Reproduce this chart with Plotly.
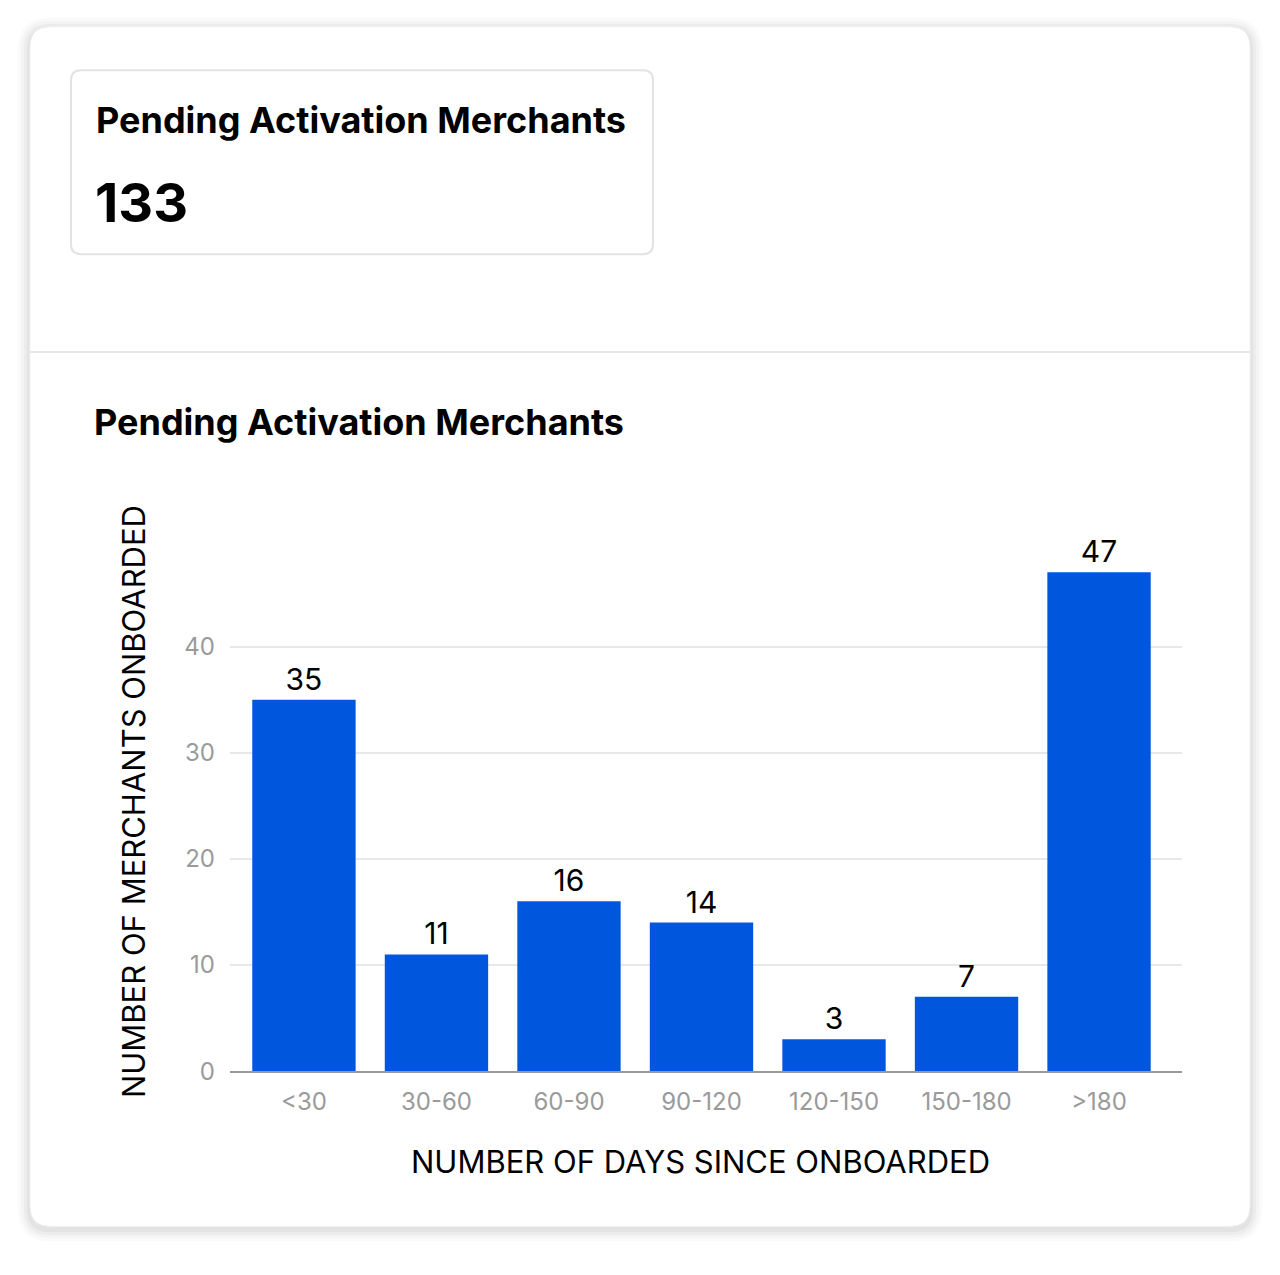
import plotly.graph_objects as go

W, H = 1280, 1275

# data
categories = ["<30", "30-60", "60-90", "90-120", "120-150", "150-180", ">180"]
merchants = [35, 11, 16, 14, 3, 7, 47]
total_pending = sum(merchants)  # 133
y_ticks = [0, 10, 20, 30, 40]

FONT = "Inter"
BLUE = "#0057de"


def px_x(x):
    return x / W


def px_y(y):
    return 1 - y / H


def rounded_rect(x0, y0, x1, y1, r):
    # path in paper coords from pixel coords
    X, Y = px_x, px_y
    rx, ry = r / W, r / H
    return (f"M {X(x0)+rx},{Y(y0)} L {X(x1)-rx},{Y(y0)} "
            f"Q {X(x1)},{Y(y0)} {X(x1)},{Y(y0)-ry} "
            f"L {X(x1)},{Y(y1)+ry} Q {X(x1)},{Y(y1)} {X(x1)-rx},{Y(y1)} "
            f"L {X(x0)+rx},{Y(y1)} Q {X(x0)},{Y(y1)} {X(x0)},{Y(y1)+ry} "
            f"L {X(x0)},{Y(y0)-ry} Q {X(x0)},{Y(y0)} {X(x0)+rx},{Y(y0)} Z")


fig = go.Figure()
fig.add_trace(go.Bar(
    x=categories, y=merchants,
    marker=dict(color=BLUE, line=dict(width=0)),
    text=merchants, textposition="outside",
    textfont=dict(family=FONT, size=30, color="#000"),
    cliponaxis=False, width=0.78,
))

shapes = []
# soft shadow around the card
for i, op in enumerate([0.02, 0.025, 0.03, 0.035]):
    g = 12 - i * 3
    shapes.append(dict(type="path", xref="paper", yref="paper",
                       path=rounded_rect(30 - g, 27 - g + 3, 1250 + g, 1240 + g + 3, 20 + g),
                       fillcolor=f"rgba(0,0,0,{op})", line=dict(width=0), layer="below"))
shapes.append(dict(type="path", xref="paper", yref="paper",
                   path=rounded_rect(30, 27, 1250, 1240, 20),
                   fillcolor="#ffffff", line=dict(color="#efefef", width=1), layer="below"))
# kpi box
shapes.append(dict(type="path", xref="paper", yref="paper",
                   path=rounded_rect(71, 71, 653, 257, 10),
                   fillcolor="#ffffff", line=dict(color="#e3e3e3", width=2), layer="below"))
# divider
shapes.append(dict(type="line", xref="paper", yref="paper",
                   x0=px_x(30), x1=px_x(1250), y0=px_y(356), y1=px_y(356),
                   line=dict(color="#e6e6e6", width=2), layer="below"))


def note(text, x, y, size, xanchor="left", angle=0):
    return dict(text=text, x=px_x(x), y=px_y(y), xref="paper", yref="paper",
                xanchor=xanchor, yanchor="middle", showarrow=False, textangle=angle,
                font=dict(family=FONT, size=size, color="#000"))


annotations = [
    note("<b>Pending Activation Merchants</b>", 94, 121, 36),
    note("<b>" + str(total_pending) + "</b>", 93, 205, 54),
    note("<b>Pending Activation Merchants</b>", 92, 427, 36),
    note("NUMBER OF DAYS SINCE ONBOARDED", 700, 1174, 31, "center"),
    note("NUMBER OF MERCHANTS ONBOARDED", 133, 811, 31, "center", -90),
]

fig.update_layout(
    width=W, height=H,
    margin=dict(l=0, r=0, t=0, b=0),
    paper_bgcolor="#ffffff", plot_bgcolor="rgba(0,0,0,0)",
    showlegend=False,
    shapes=shapes, annotations=annotations,
    xaxis=dict(domain=[px_x(230), px_x(1182)], range=[-0.558, 6.626],
               showgrid=False, showline=True, linecolor="#9a9a9a", linewidth=2,
               ticks="", ticklabelstandoff=8,
               tickfont=dict(family=FONT, size=24, color="#9a9a9a"), fixedrange=True),
    yaxis=dict(domain=[px_y(1083), px_y(568)], range=[0, 48],
               tickvals=y_ticks, showgrid=True, gridcolor="#e8e8e8", gridwidth=1.5,
               zeroline=False, showline=False, ticks="", ticklabelstandoff=14,
               tickfont=dict(family=FONT, size=24, color="#9a9a9a"), fixedrange=True),
    bargap=0.22,
)

post = (
    "document.documentElement.style.margin='0';"
    "document.body.style.margin='0';"
    "document.documentElement.style.overflow='hidden';"
    "document.body.style.overflow='hidden';"
)
fig.write_html("out.html", config=dict(displayModeBar=False), post_script=post)
